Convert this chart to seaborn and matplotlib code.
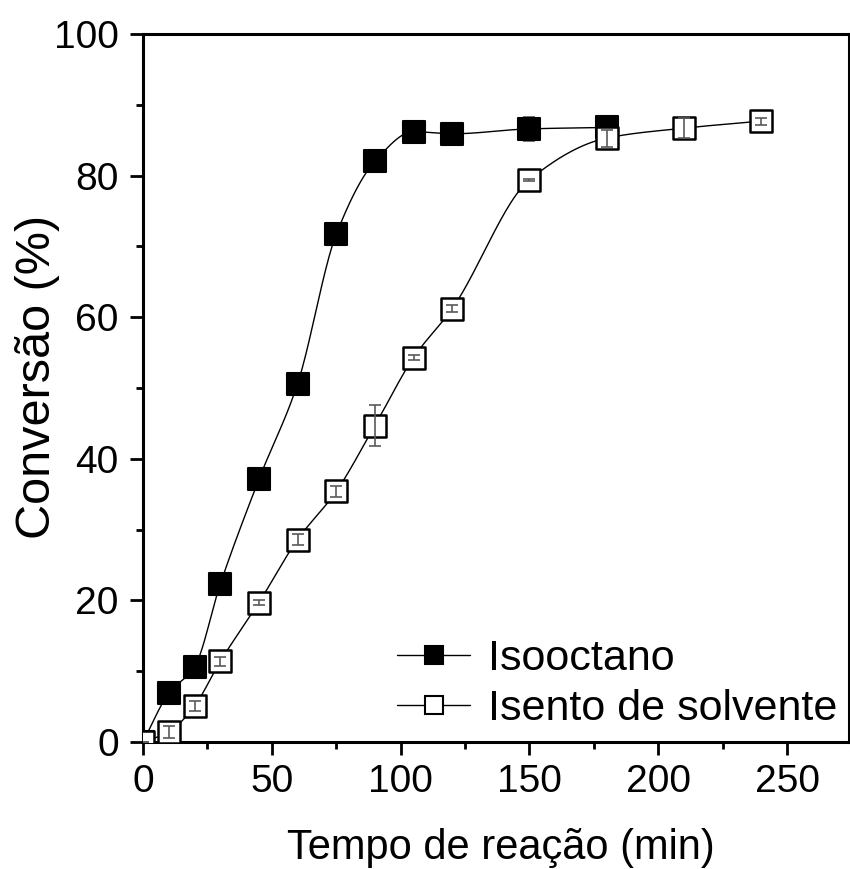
import numpy as np
import pandas as pd
import matplotlib
matplotlib.use("Agg")
import matplotlib.pyplot as plt
from matplotlib.lines import Line2D
from matplotlib.ticker import MultipleLocator
import seaborn as sns

# Reaction time (min) and conversion (%) for each medium
tempo_iso = [0, 10, 20, 30, 45, 60, 75, 90, 105, 120, 150, 180]
conv_iso = [0.0, 6.9, 10.6, 22.3, 37.1, 50.6, 71.7, 82.0, 86.2, 85.9, 86.6, 86.8]
erro_iso = [0.0, 0.3, 0.3, 0.3, 0.3, 0.3, 0.3, 0.3, 0.3, 0.3, 1.7, 0.5]

tempo_sem = [0, 10, 20, 30, 45, 60, 75, 90, 105, 120, 150, 180, 210, 240]
conv_sem = [0.0, 1.4, 5.1, 11.4, 19.7, 28.6, 35.4, 44.7, 54.3, 61.2, 79.4, 85.3, 86.7, 87.7]
erro_sem = [0.0, 0.8, 0.65, 0.6, 0.3, 0.8, 0.78, 2.9, 0.3, 0.5, 0.1, 1.2, 1.4, 0.5]

rotulos = ["Isooctano", "Isento de solvente"]


def curva_suave(x, y, n=400):
    """Shape-preserving (PCHIP) cubic through (x, y) on a dense grid."""
    x = np.asarray(x, float)
    y = np.asarray(y, float)
    h = np.diff(x)
    delta = np.diff(y) / h
    k = len(x)
    m = np.zeros(k)
    for i in range(1, k - 1):
        if delta[i - 1] * delta[i] > 0:
            w1 = 2 * h[i] + h[i - 1]
            w2 = h[i] + 2 * h[i - 1]
            m[i] = (w1 + w2) / (w1 / delta[i - 1] + w2 / delta[i])
    m[0] = delta[0]
    m[-1] = delta[-1]
    xs = np.linspace(x[0], x[-1], n)
    idx = np.clip(np.searchsorted(x, xs, side="right") - 1, 0, k - 2)
    t = (xs - x[idx]) / h[idx]
    h00 = 2 * t ** 3 - 3 * t ** 2 + 1
    h10 = t ** 3 - 2 * t ** 2 + t
    h01 = -2 * t ** 3 + 3 * t ** 2
    h11 = t ** 3 - t ** 2
    ys = (h00 * y[idx] + h10 * h[idx] * m[idx]
          + h01 * y[idx + 1] + h11 * h[idx] * m[idx + 1])
    return xs, ys


sns.set_theme(style="ticks")
plt.rcParams["font.family"] = ["Liberation Sans", "DejaVu Sans"]
plt.rcParams["text.color"] = "black"
plt.rcParams["axes.labelcolor"] = "black"
plt.rcParams["xtick.color"] = "black"
plt.rcParams["ytick.color"] = "black"

fig = plt.figure(figsize=(8.5, 8.69), dpi=100)
ax = fig.add_axes([0.1682, 0.1461, 0.8306, 0.8148])

df_iso = pd.DataFrame({"t": tempo_iso, "c": conv_iso})
df_sem = pd.DataFrame({"t": tempo_sem, "c": conv_sem})

# Smooth connecting curves
xs, ys = curva_suave(tempo_iso, conv_iso)
sns.lineplot(x=xs, y=ys, ax=ax, color="black", lw=1.0, zorder=2, sort=False)
xs2, ys2 = curva_suave(tempo_sem, conv_sem)
sns.lineplot(x=xs2, y=ys2, ax=ax, color="black", lw=1.0, zorder=5, sort=False)

# Error bars: below the solid squares, above the hollow ones
ax.errorbar(tempo_iso, conv_iso, yerr=erro_iso, fmt="none", ecolor="#5a5a5a",
            elinewidth=1.2, capsize=4, capthick=1.2, zorder=3)
ax.errorbar(tempo_sem, conv_sem, yerr=erro_sem, fmt="none", ecolor="#5a5a5a",
            elinewidth=1.2, capsize=4, capthick=1.2, zorder=7)

# Markers
sns.scatterplot(data=df_iso, x="t", y="c", ax=ax, marker="s", s=15.5 ** 2,
                color="black", edgecolor="black", linewidth=1.5, zorder=4)
sns.scatterplot(data=df_sem, x="t", y="c", ax=ax, marker="s", s=15.5 ** 2,
                color="white", edgecolor="black", linewidth=1.8, zorder=6)

ax.set_xlim(0, 274)
ax.set_ylim(0, 100)
ax.xaxis.set_major_locator(MultipleLocator(50))
ax.xaxis.set_minor_locator(MultipleLocator(25))
ax.yaxis.set_major_locator(MultipleLocator(20))
ax.yaxis.set_minor_locator(MultipleLocator(10))

for s in ax.spines.values():
    s.set_visible(True)
    s.set_linewidth(2.2)
    s.set_color("black")

ax.tick_params(axis="both", which="major", direction="out", length=9.5, width=2.0,
               labelsize=28, colors="black", pad=6, top=False, right=False)
ax.tick_params(axis="both", which="minor", direction="out", length=5, width=2.0,
               top=False, right=False)
ax.tick_params(axis="y", which="major", pad=8)

ax.set_xlabel("Tempo de reação (min)", fontsize=30, color="black")
ax.set_ylabel("Conversão (%)", fontsize=35, color="black")
ax.xaxis.set_label_coords(0.507, -0.121)
ax.yaxis.set_label_coords(-0.118, 0.5155)

handles = [
    Line2D([], [], color="black", lw=1.0, marker="s", markersize=13,
           markerfacecolor="black", markeredgecolor="black", markeredgewidth=1.5),
    Line2D([], [], color="black", lw=1.0, marker="s", markersize=13,
           markerfacecolor="white", markeredgecolor="black", markeredgewidth=1.5),
]
leg = ax.legend(handles, rotulos, loc="center left", bbox_to_anchor=(0.36, 0.082),
                frameon=False, fontsize=31, handlelength=1.7, handletextpad=0.4,
                labelspacing=0.24, borderpad=0, borderaxespad=0)
for txt in leg.get_texts():
    txt.set_color("black")

fig.savefig("out.png", dpi=100)
